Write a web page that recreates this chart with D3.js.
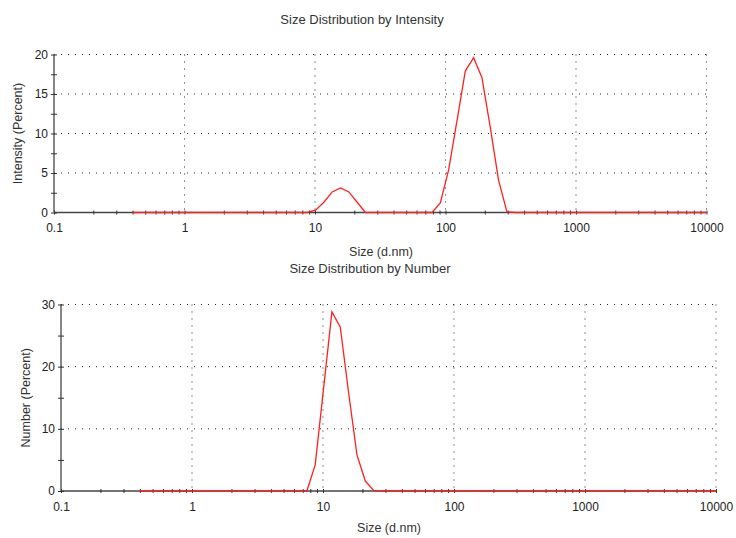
<!DOCTYPE html>
<html>
<head>
<meta charset="utf-8">
<script src="https://cdn.jsdelivr.net/npm/d3@7"></script>
<style>
  body { margin: 0; background: #fff; }
  svg { display: block; font-family: "Liberation Sans", Arial, sans-serif; }
  .axis path { stroke: #444; stroke-width: 1.3; }
  .axis line { stroke: #333; }
  .axis text { font-size: 12px; fill: #222; }
  .grid line { stroke: #222; stroke-dasharray: 1,6; stroke-width: 1; }
  .title { font-size: 13px; fill: #333; }
  .xlabel, .ylabel { font-size: 12.5px; fill: #333; }
</style>
</head>
<body>
<svg width="736" height="538"></svg>
<script>
// size classes (d.nm), 70 bins as exported by the instrument
var sizes = [0.4, 0.4632, 0.5365, 0.6213, 0.7195, 0.8332, 0.9649, 1.117, 1.294, 1.499,
    1.736, 2.010, 2.328, 2.696, 3.122, 3.615, 4.187, 4.849, 5.615, 6.503,
    7.531, 8.721, 10.10, 11.70, 13.54, 15.69, 18.17, 21.04, 24.36, 28.21,
    32.67, 37.84, 43.82, 50.75, 58.77, 68.06, 78.82, 91.28, 105.7, 122.4,
    141.8, 164.2, 190.1, 220.2, 255.0, 295.3, 342.0, 396.1, 458.7, 531.2,
    615.1, 712.4, 825.0, 955.4, 1106, 1281, 1484, 1718, 1990, 2305,
    2669, 3091, 3580, 4145, 4801, 5560, 6439, 7456, 8635, 10000];

var intensity = [0, 0, 0, 0, 0, 0, 0, 0, 0, 0,
    0, 0, 0, 0, 0, 0, 0, 0, 0, 0,
    0, 0, 0.3, 1.3, 2.6, 3.1, 2.6, 1.3, 0, 0,
    0, 0, 0, 0, 0, 0, 0, 1.2, 5.4, 11.6,
    17.9, 19.6, 17.1, 10.8, 4.1, 0.1, 0, 0, 0, 0,
    0, 0, 0, 0, 0, 0, 0, 0, 0, 0,
    0, 0, 0, 0, 0, 0, 0, 0, 0, 0];

var number = [0, 0, 0, 0, 0, 0, 0, 0, 0, 0,
    0, 0, 0, 0, 0, 0, 0, 0, 0, 0,
    0, 4.2, 16.5, 28.8, 26.4, 15.8, 5.8, 1.6, 0.1, 0,
    0, 0, 0, 0, 0, 0, 0, 0, 0, 0,
    0, 0, 0, 0, 0, 0, 0, 0, 0, 0,
    0, 0, 0, 0, 0, 0, 0, 0, 0, 0,
    0, 0, 0, 0, 0, 0, 0, 0, 0, 0];

var xDecades = [0.1, 1, 10, 100, 1000, 10000];
var xTickLabels = ["0.1", "1", "10", "100", "1000", "10000"];
var intensityTicks = [0, 5, 10, 15, 20];
var numberTicks = [0, 10, 20, 30];

var svg = d3.select("svg");

function panel(opt) {
    var x = d3.scaleLog().domain([0.1, 10000]).range([opt.left, opt.right]);
    var y = d3.scaleLinear().domain([0, opt.ymax]).range([opt.bottom, opt.top]);
    var g = svg.append("g");

    // minor x ticks 2..9 in each decade
    var minor = [];
    xDecades.slice(0, -1).forEach(function(d) {
        for (var k = 2; k <= 9; k++) minor.push(d * k);
    });
    var yMinor = d3.range(opt.minorStep, opt.ymax, opt.minorStep)
        .filter(function(v) { return opt.yTicks.indexOf(v) < 0; });

    // dotted grid
    var grid = g.append("g").attr("class", "grid");
    grid.selectAll(".h").data(opt.yTicks.filter(function(v) { return v > 0; }))
        .enter().append("line")
        .attr("x1", opt.left).attr("x2", opt.right)
        .attr("y1", function(d) { return y(d); }).attr("y2", function(d) { return y(d); });
    grid.selectAll(".v").data(xDecades.slice(1))
        .enter().append("line")
        .attr("x1", function(d) { return x(d); }).attr("x2", function(d) { return x(d); })
        .attr("y1", opt.top).attr("y2", opt.bottom);

    // x axis
    var xa = g.append("g").attr("class", "axis")
        .attr("transform", "translate(0," + opt.bottom + ")")
        .call(d3.axisBottom(x).tickValues(xDecades.concat(minor)).tickSize(2)
            .tickFormat(function(d) {
                var i = xDecades.indexOf(d);
                return i < 0 ? "" : xTickLabels[i];
            }));
    xa.select(".domain").attr("d", "M" + opt.left + ",0H" + opt.right);
    xa.selectAll(".tick line").attr("y1", -2).attr("y2", 2);
    xa.selectAll(".tick text").attr("y", 11);

    // y axis
    var ya = g.append("g").attr("class", "axis")
        .attr("transform", "translate(" + opt.left + ",0)")
        .call(d3.axisLeft(y).tickValues(opt.yTicks.concat(yMinor)).tickSize(3)
            .tickFormat(function(d) { return opt.yTicks.indexOf(d) < 0 ? "" : d; }));
    ya.select(".domain").attr("d", "M0," + opt.top + "V" + opt.bottom);
    ya.selectAll(".tick line").attr("x1", -3).attr("x2", 3);
    ya.selectAll(".tick text").attr("x", -6);

    // data line
    var line = d3.line()
        .x(function(d, i) { return x(sizes[i]); })
        .y(function(d) { return y(d); });
    g.append("path")
        .datum(opt.values)
        .attr("fill", "none")
        .attr("stroke", "#ff2020")
        .attr("stroke-width", 1.3)
        .attr("d", line);

    g.append("text").attr("class", "title")
        .attr("x", opt.titleX).attr("y", opt.titleY)
        .attr("text-anchor", "middle").text(opt.title);
    g.append("text").attr("class", "xlabel")
        .attr("x", opt.xlabelX).attr("y", opt.xlabelY)
        .attr("text-anchor", "middle").text("Size (d.nm)");
    g.append("text").attr("class", "ylabel")
        .attr("transform", "translate(" + opt.ylabelX + "," + ((opt.top + opt.bottom) / 2) + ") rotate(-90)")
        .attr("text-anchor", "middle").text(opt.ylabel);
}

panel({
    left: 54, right: 706.5, top: 54.5, bottom: 212.5,
    ymax: 20, yTicks: intensityTicks, minorStep: 2.5,
    values: intensity,
    title: "Size Distribution by Intensity", titleX: 362, titleY: 24,
    xlabelX: 381, xlabelY: 256,
    ylabel: "Intensity (Percent)", ylabelX: 22
});

panel({
    left: 61, right: 716, top: 304.5, bottom: 491,
    ymax: 30, yTicks: numberTicks, minorStep: 5,
    values: number,
    title: "Size Distribution by Number", titleX: 370, titleY: 273,
    xlabelX: 389, xlabelY: 532,
    ylabel: "Number (Percent)", ylabelX: 30
});
</script>
</body>
</html>
